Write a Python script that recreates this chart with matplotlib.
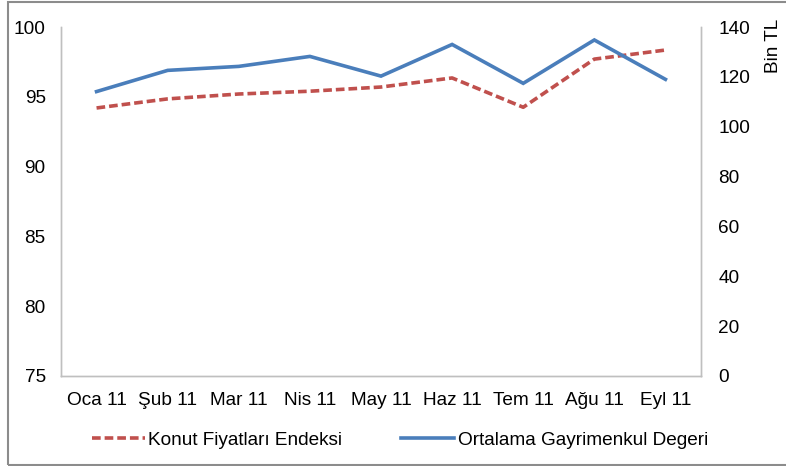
import matplotlib
matplotlib.use('Agg')
import matplotlib.pyplot as plt
from matplotlib.patches import Rectangle

plt.rcParams['font.family'] = ['Liberation Sans', 'DejaVu Sans']

months = ['Oca 11', 'Şub 11', 'Mar 11', 'Nis 11', 'May 11', 'Haz 11', 'Tem 11', 'Ağu 11', 'Eyl 11']
konut_endeksi = [94.2, 94.85, 95.2, 95.4, 95.7, 96.35, 94.25, 97.7, 98.35]
ortalama_deger = [114.1, 122.6, 124.2, 128.2, 120.3, 133.0, 117.4, 134.8, 119.0]

left_ticks = [75, 80, 85, 90, 95, 100]
right_ticks = [0, 20, 40, 60, 80, 100, 120, 140]

RED = '#C0504D'
BLUE = '#4A7EBB'
GRID = '#BFBFBF'
FS = 13.7

fig = plt.figure(figsize=(7.86, 4.66), dpi=100)
ax = fig.add_axes([61 / 786, 90 / 466, 640 / 786, 349 / 466])
ax2 = ax.twinx()

x = list(range(len(months)))
l1, = ax.plot(x, konut_endeksi, color=RED, lw=2.6, ls=(0, (2.4, 1.1)),
              label='Konut Fiyatları Endeksi')
l2, = ax2.plot(x, ortalama_deger, color=BLUE, lw=2.6,
               label='Ortalama Gayrimenkul Degeri', solid_joinstyle='miter')

ax.set_xlim(-0.5, len(months) - 0.5)
ax.set_ylim(75, 100)
ax.set_yticks(left_ticks)
ax2.set_ylim(0, 140)
ax2.set_yticks(right_ticks)
ax.set_xticks(x)
ax.set_xticklabels(months)

for a in (ax, ax2):
    a.spines['top'].set_visible(False)
    for side in ['left', 'right', 'bottom']:
        a.spines[side].set_color(GRID)
        a.spines[side].set_linewidth(1.0)
    a.tick_params(length=0, labelsize=FS, colors='black')

ax.tick_params(axis='y', pad=11)
ax.tick_params(axis='x', pad=11.5)
ax2.tick_params(axis='y', pad=12.5)
ax2.set_ylabel('Bin TL', fontsize=FS, rotation=90)
ax2.yaxis.set_label_coords(1.1, 0.946)

fig.legend(handles=[l1, l2], loc='center', bbox_to_anchor=(400 / 786, 1 - 440 / 466),
           ncol=2, frameon=False, fontsize=FS, handlelength=2.75,
           handletextpad=0.2, columnspacing=3.1)

fig.patches.append(Rectangle((7.5 / 786, 1.5 / 466), 1.0, 462.5 / 466, transform=fig.transFigure,
                             fill=False, edgecolor='#8C8C8C', lw=1.5))

fig.savefig('out.png', dpi=100)
